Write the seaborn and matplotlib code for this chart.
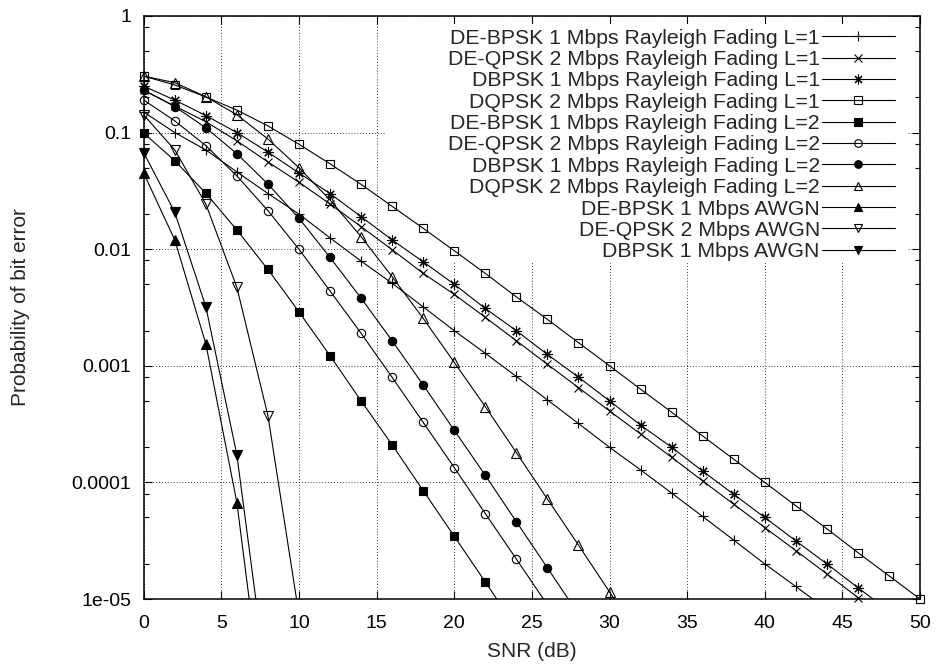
import matplotlib
matplotlib.use("Agg")
import matplotlib.pyplot as plt
from matplotlib.lines import Line2D
from matplotlib.patches import Rectangle
from matplotlib.ticker import LogLocator, NullFormatter
import pandas as pd
import seaborn as sns

# --- data ---
snr = [0, 2, 4, 6, 8, 10, 12, 14, 16, 18, 20, 22, 24, 26,
       28, 30, 32, 34, 36, 38, 40, 42, 44, 46, 48, 50]

labels = [
    "DE-BPSK 1 Mbps Rayleigh Fading L=1",
    "DE-QPSK 2 Mbps Rayleigh Fading L=1",
    "DBPSK 1 Mbps Rayleigh Fading L=1",
    "DQPSK 2 Mbps Rayleigh Fading L=1",
    "DE-BPSK 1 Mbps Rayleigh Fading L=2",
    "DE-QPSK 2 Mbps Rayleigh Fading L=2",
    "DBPSK 1 Mbps Rayleigh Fading L=2",
    "DQPSK 2 Mbps Rayleigh Fading L=2",
    "DE-BPSK 1 Mbps AWGN",
    "DE-QPSK 2 Mbps AWGN",
    "DBPSK 1 Mbps AWGN",
]

debpsk_l1 = [0.15, 0.1, 0.071, 0.046, 0.030, 0.020, 0.0125, 0.0079, 0.0051, 0.0032,
             0.0020, 1.28e-3, 8.1e-4, 5.1e-4, 3.2e-4, 2.0e-4, 1.28e-4, 8.1e-5,
             5.1e-5, 3.2e-5, 2.0e-5, 1.28e-5, 8.1e-6]
deqpsk_l1 = [0.23, 0.169, 0.124, 0.085, 0.056, 0.0375, 0.0244, 0.0156, 0.0099, 0.0062,
             0.0041, 0.0026, 1.64e-3, 1.03e-3, 6.5e-4, 4.1e-4, 2.6e-4, 1.64e-4,
             1.03e-4, 6.5e-5, 4.1e-5, 2.6e-5, 1.64e-5, 1.03e-5, 6.5e-6]
dbpsk_l1 = [0.25, 0.19, 0.14, 0.10, 0.068, 0.045, 0.030, 0.019, 0.012, 0.0078,
            0.005, 0.0031, 0.002, 1.25e-3, 8e-4, 5e-4, 3.1e-4, 2e-4, 1.25e-4,
            7.9e-5, 5e-5, 3.15e-5, 2e-5, 1.25e-5, 7.9e-6]
dqpsk_l1 = [0.305, 0.256, 0.202, 0.156, 0.114, 0.0794, 0.054, 0.036, 0.0233, 0.0151,
            0.0097, 0.0062, 0.0039, 0.0025, 1.58e-3, 1e-3, 6.3e-4, 4e-4, 2.5e-4,
            1.58e-4, 1e-4, 6.3e-5, 4e-5, 2.5e-5, 1.58e-5, 1e-5]
debpsk_l2 = [0.099, 0.0574, 0.0302, 0.0146, 0.0067, 0.0029, 1.22e-3, 5.0e-4, 2.1e-4,
             8.5e-5, 3.45e-5, 1.4e-5, 5.6e-6]
deqpsk_l2 = [0.19, 0.126, 0.0773, 0.0425, 0.0214, 0.00998, 0.00438, 0.0019, 7.96e-4,
             3.27e-4, 1.34e-4, 5.4e-5, 2.2e-5, 8.9e-6]
dbpsk_l2 = [0.232, 0.167, 0.110, 0.0659, 0.0362, 0.0184, 0.0085, 0.0038, 1.64e-3,
            6.84e-4, 2.8e-4, 1.15e-4, 4.6e-5, 1.85e-5, 7.4e-6]
dqpsk_l2 = [0.305, 0.268, 0.203, 0.142, 0.088, 0.05, 0.0264, 0.0128, 0.0058, 0.00255,
            1.07e-3, 4.46e-4, 1.8e-4, 7.2e-5, 2.9e-5, 1.15e-5, 4.6e-6]
debpsk_awgn = [0.0448, 0.012, 1.54e-3, 6.7e-5, 5.4e-7]
deqpsk_awgn = [0.1416, 0.071, 0.0244, 0.0047, 3.73e-4, 7.3e-6]
dbpsk_awgn = [0.0672, 0.0207, 3.21e-3, 1.72e-4, 1.6e-6]

ytick_vals = [1, 0.1, 0.01, 0.001, 0.0001, 0.00001]
ytick_labels = ["1", "0.1", "0.01", "0.001", "0.0001", "1e-05"]

series = [debpsk_l1, deqpsk_l1, dbpsk_l1, dqpsk_l1, debpsk_l2, deqpsk_l2,
          dbpsk_l2, dqpsk_l2, debpsk_awgn, deqpsk_awgn, dbpsk_awgn]
# gnuplot default point types: marker, size, filled
styles = [("+", 7, True), ("x", 6, True), ((8, 2, 0), 7.5, True), ("s", 6, False),
          ("s", 6, True), ("o", 6, False), ("o", 6, True), ("^", 6.5, False),
          ("^", 6.5, True), ("v", 6.5, False), ("v", 6.5, True)]

sns.set_style("ticks")
plt.rcParams["font.family"] = ["Liberation Sans", "DejaVu Sans"]
plt.rcParams["font.size"] = 14

fig = plt.figure(figsize=(9.37, 6.66), dpi=100)
ax = fig.add_axes([0.1534, 0.1006, 0.8285, 0.8754])
ax.set_yscale("log")
ax.set_axisbelow(True)

handles = []
for vals, lab, (mk, ms, filled) in zip(series, labels, styles):
    df = pd.DataFrame({"snr": snr[:len(vals)], "ber": vals})
    sns.lineplot(data=df, x="snr", y="ber", ax=ax, color="black", lw=0.8, zorder=2)
    inside = df[df["ber"] >= 1e-5]
    mfc = "black" if filled else "none"
    ax.plot(inside["snr"], inside["ber"], ls="none", marker=mk, ms=ms, mfc=mfc,
            mec="black", mew=0.8, clip_on=False, zorder=3)
    handles.append(Line2D([], [], color="black", lw=0.8, marker=mk, ms=ms - 0.5,
                          mfc=mfc, mec="black", mew=0.8, label=lab))

ax.set_xlim(0, 50)
ax.set_ylim(1e-5, 1)
ax.set_xticks(range(0, 51, 5))
ax.set_yticks(ytick_vals)
ax.set_yticklabels(ytick_labels)
ax.yaxis.set_minor_locator(LogLocator(base=10, subs=(2, 5, 8)))
ax.yaxis.set_minor_formatter(NullFormatter())
ax.tick_params(which="both", direction="in", top=True, right=True, width=0.8,
               colors="black", labelsize=14)
ax.tick_params(axis="x", pad=11.5)
ax.tick_params(axis="y", pad=9)
ax.tick_params(which="major", length=6)
ax.tick_params(which="minor", length=3.5)
ax.grid(True, which="major", color="black", lw=0.6, ls=(0, (1, 2.5)))
for sp in ax.spines.values():
    sp.set_linewidth(1.1)
    sp.set_color("black")

ax.set_xlabel("SNR (dB)", fontsize=15, labelpad=7)
ax.set_ylabel("Probability of bit error", fontsize=15, labelpad=30)

# blank area behind the key (grid is hidden there, curves are not)
ax.add_patch(Rectangle((0.312, 0.578), 0.6725, 0.408, transform=ax.transAxes,
                       facecolor="white", edgecolor="none", zorder=1))

# markerfirst=False right-aligns the rows, like the gnuplot key
leg = ax.legend(handles=handles, loc="upper right", bbox_to_anchor=(0.9678, 0.978),
                frameon=False, markerfirst=False, handlelength=3.44,
                handletextpad=0.1, labelspacing=0.11, borderpad=0,
                borderaxespad=0, fontsize=15.3)
leg.set_zorder(4)

fig.savefig("out.png", dpi=100)
